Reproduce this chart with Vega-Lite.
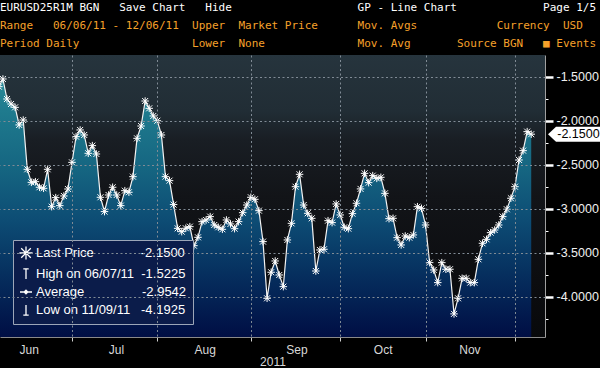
{
  "$schema": "https://vega.github.io/schema/vega-lite/v6.json",
  "width": 545,
  "height": 282,
  "autosize": {"type": "none"},
  "padding": {"left": 0, "top": 55, "right": 55, "bottom": 31},
  "background": "#000000",
  "title": {
    "text": "EURUSD25R1M BGN\u00a0\u00a0\u00a0Save Chart\u00a0\u00a0\u00a0Hide\u00a0\u00a0\u00a0\u00a0\u00a0\u00a0\u00a0\u00a0\u00a0\u00a0\u00a0\u00a0\u00a0\u00a0\u00a0\u00a0\u00a0\u00a0\u00a0GP - Line Chart\u00a0\u00a0\u00a0\u00a0\u00a0\u00a0\u00a0\u00a0\u00a0\u00a0\u00a0\u00a0\u00a0Page 1/5",
    "subtitle": [
      "Range\u00a0\u00a0\u00a006/06/11 - 12/06/11\u00a0\u00a0Upper\u00a0\u00a0Market Price\u00a0\u00a0\u00a0\u00a0\u00a0\u00a0Mov. Avgs\u00a0\u00a0\u00a0\u00a0\u00a0\u00a0\u00a0\u00a0\u00a0\u00a0\u00a0\u00a0Currency\u00a0\u00a0USD",
      "Period\u00a0Daily\u00a0\u00a0\u00a0\u00a0\u00a0\u00a0\u00a0\u00a0\u00a0\u00a0\u00a0\u00a0\u00a0\u00a0\u00a0\u00a0\u00a0Lower\u00a0\u00a0None\u00a0\u00a0\u00a0\u00a0\u00a0\u00a0\u00a0\u00a0\u00a0\u00a0\u00a0\u00a0\u00a0\u00a0Mov. Avg\u00a0\u00a0\u00a0\u00a0\u00a0\u00a0\u00a0Source\u00a0BGN\u00a0\u00a0\u00a0\u25a0 Events"
    ],
    "anchor": "start",
    "frame": "group",
    "offset": 3,
    "font": "DejaVu Sans Mono",
    "fontSize": 11,
    "fontWeight": "normal",
    "color": "#ffffff",
    "subtitleFont": "DejaVu Sans Mono",
    "subtitleFontSize": 11,
    "subtitleColor": "#f6a12a",
    "subtitleLineHeight": 18,
    "subtitlePadding": 7
  },
  "datasets": {
    "series": [
      {"i": 0, "v": -1.61}, {"i": 1, "v": -1.5225}, {"i": 2, "v": -1.75}, {"i": 3, "v": -1.807}, {"i": 4, "v": -1.845},
      {"i": 5, "v": -2.045}, {"i": 6, "v": -1.989}, {"i": 7, "v": -2.549}, {"i": 8, "v": -2.697}, {"i": 9, "v": -2.69},
      {"i": 10, "v": -2.753}, {"i": 11, "v": -2.765}, {"i": 12, "v": -2.549}, {"i": 13, "v": -2.974}, {"i": 14, "v": -2.871},
      {"i": 15, "v": -2.962}, {"i": 16, "v": -2.852}, {"i": 17, "v": -2.773}, {"i": 18, "v": -2.47}, {"i": 19, "v": -2.178},
      {"i": 20, "v": -2.102}, {"i": 21, "v": -2.159}, {"i": 22, "v": -2.367}, {"i": 23, "v": -2.28}, {"i": 24, "v": -2.375},
      {"i": 25, "v": -2.867}, {"i": 26, "v": -3.03}, {"i": 27, "v": -2.841}, {"i": 28, "v": -2.753}, {"i": 29, "v": -2.841},
      {"i": 30, "v": -2.962}, {"i": 31, "v": -2.792}, {"i": 32, "v": -2.81}, {"i": 33, "v": -2.633}, {"i": 34, "v": -2.197},
      {"i": 35, "v": -2.057}, {"i": 36, "v": -1.773}, {"i": 37, "v": -1.856}, {"i": 38, "v": -1.943}, {"i": 39, "v": -1.997},
      {"i": 40, "v": -2.159}, {"i": 41, "v": -2.633}, {"i": 42, "v": -2.678}, {"i": 43, "v": -2.95}, {"i": 44, "v": -3.22},
      {"i": 45, "v": -3.258}, {"i": 46, "v": -3.219}, {"i": 47, "v": -3.201}, {"i": 48, "v": -3.417}, {"i": 49, "v": -3.322},
      {"i": 50, "v": -3.144}, {"i": 51, "v": -3.125}, {"i": 52, "v": -3.087}, {"i": 53, "v": -3.182}, {"i": 54, "v": -3.208},
      {"i": 55, "v": -3.231}, {"i": 56, "v": -3.125}, {"i": 57, "v": -3.17}, {"i": 58, "v": -3.224}, {"i": 59, "v": -3.144},
      {"i": 60, "v": -3.042}, {"i": 61, "v": -2.955}, {"i": 62, "v": -2.867}, {"i": 63, "v": -2.89}, {"i": 64, "v": -3.019},
      {"i": 65, "v": -3.371}, {"i": 66, "v": -4.015}, {"i": 67, "v": -3.719}, {"i": 68, "v": -3.591}, {"i": 69, "v": -3.75},
      {"i": 70, "v": -3.883}, {"i": 71, "v": -3.352}, {"i": 72, "v": -3.163}, {"i": 73, "v": -2.747}, {"i": 74, "v": -2.606},
      {"i": 75, "v": -2.955}, {"i": 76, "v": -3.049}, {"i": 77, "v": -3.106}, {"i": 78, "v": -3.705}, {"i": 79, "v": -3.466},
      {"i": 80, "v": -3.458}, {"i": 81, "v": -3.133}, {"i": 82, "v": -3.155}, {"i": 83, "v": -2.943}, {"i": 84, "v": -3.068},
      {"i": 85, "v": -3.208}, {"i": 86, "v": -3.224}, {"i": 87, "v": -3.053}, {"i": 88, "v": -2.935}, {"i": 89, "v": -2.772},
      {"i": 90, "v": -2.595}, {"i": 91, "v": -2.701}, {"i": 92, "v": -2.621}, {"i": 93, "v": -2.652}, {"i": 94, "v": -2.64},
      {"i": 95, "v": -2.822}, {"i": 96, "v": -3.11}, {"i": 97, "v": -3.106}, {"i": 98, "v": -3.326}, {"i": 99, "v": -3.409},
      {"i": 100, "v": -3.307}, {"i": 101, "v": -3.326}, {"i": 102, "v": -3.295}, {"i": 103, "v": -2.974}, {"i": 104, "v": -2.993},
      {"i": 105, "v": -3.182}, {"i": 106, "v": -3.61}, {"i": 107, "v": -3.693}, {"i": 108, "v": -3.837}, {"i": 109, "v": -3.61},
      {"i": 110, "v": -3.685}, {"i": 111, "v": -3.685}, {"i": 112, "v": -4.1925}, {"i": 113, "v": -4.015}, {"i": 114, "v": -3.788},
      {"i": 115, "v": -3.788}, {"i": 116, "v": -3.837}, {"i": 117, "v": -3.837}, {"i": 118, "v": -3.572}, {"i": 119, "v": -3.39},
      {"i": 120, "v": -3.345}, {"i": 121, "v": -3.269}, {"i": 122, "v": -3.239}, {"i": 123, "v": -3.182}, {"i": 124, "v": -3.087},
      {"i": 125, "v": -3.003}, {"i": 126, "v": -2.878}, {"i": 127, "v": -2.747}, {"i": 128, "v": -2.443}, {"i": 129, "v": -2.337},
      {"i": 130, "v": -2.121}, {"i": 131, "v": -2.15}
    ],
    "legend": [
      {"entry": "Last Price", "value": "-2.1500"},
      {"entry": "High on 06/07/11", "value": "-1.5225"},
      {"entry": "Average", "value": "-2.9542"},
      {"entry": "Low on 11/09/11", "value": "-4.1925"}
    ]
  },
  "encoding": {
    "x": {
      "field": "i",
      "type": "quantitative",
      "scale": {"domain": [0.283, 134.39], "nice": false, "zero": false},
      "axis": {
        "values": [7.35, 18, 28.8, 39, 50.65, 62, 73.25, 84, 94.45, 105, 115.8, 127],
        "labelExpr": "datum.value == floor(datum.value) ? '' : datum.value < 18 ? 'Jun' : datum.value < 39 ? 'Jul' : datum.value < 62 ? 'Aug' : datum.value < 84 ? 'Sep' : datum.value < 105 ? 'Oct' : 'Nov'",
        "title": "2011",
        "grid": true,
        "gridOpacity": {"condition": {"test": "datum.value == floor(datum.value)", "value": 1}, "value": 0},
        "gridColor": "#808b95",
        "gridDash": [2, 2.5],
        "gridWidth": 1,
        "tickOpacity": {"condition": {"test": "datum.value == floor(datum.value)", "value": 1}, "value": 0},
        "tickSize": 4,
        "tickColor": "#d0d0d0",
        "domainColor": "#8a8a8a",
        "labelColor": "#d8d8d8",
        "labelFont": "Liberation Sans",
        "labelFontSize": 12,
        "labelPadding": 3,
        "labelOverlap": false,
        "labelFlush": false,
        "labelBound": false,
        "titleColor": "#d8d8d8",
        "titleFont": "Liberation Sans",
        "titleFontSize": 12,
        "titleFontWeight": "normal",
        "titlePadding": 1,
        "zindex": 1
      }
    },
    "y": {
      "field": "v",
      "type": "quantitative",
      "scale": {"domain": [-4.455, -1.25], "nice": false, "zero": false},
      "axis": {
        "orient": "right",
        "title": null,
        "values": [-4.25, -4.0, -3.75, -3.5, -3.25, -3.0, -2.75, -2.5, -2.25, -2.0, -1.75, -1.5],
        "labelExpr": "abs(datum.value * 2 - round(datum.value * 2)) < 0.001 ? '-' + format(-datum.value, '.4f') : ''",
        "grid": true,
        "gridOpacity": {"condition": {"test": "abs(datum.value * 2 - round(datum.value * 2)) < 0.001", "value": 1}, "value": 0},
        "gridColor": "#808b95",
        "gridDash": [2, 2.5],
        "gridWidth": 1,
        "tickSize": {"condition": {"test": "abs(datum.value * 2 - round(datum.value * 2)) < 0.001", "value": 8}, "value": 3},
        "tickWidth": {"condition": {"test": "abs(datum.value * 2 - round(datum.value * 2)) < 0.001", "value": 2.5}, "value": 1},
        "tickColor": "#ffffff",
        "domainColor": "#a0a0a0",
        "labelColor": "#f0f0f0",
        "labelFont": "Liberation Sans",
        "labelFontSize": 12.5,
        "labelPadding": 3,
        "labelOverlap": false,
        "labelFlush": false,
        "labelBound": false,
        "zindex": 1
      }
    }
  },
  "layer": [
    {
      "data": {"name": "series"},
      "mark": {
        "type": "area",
        "clip": true,
        "color": {
          "gradient": "linear", "x1": 0, "y1": 0, "x2": 0, "y2": 1,
          "stops": [
            {"offset": 0, "color": "#2a8b99"},
            {"offset": 0.12, "color": "#1f7b8e"},
            {"offset": 0.35, "color": "#156581"},
            {"offset": 0.55, "color": "#0d4c74"},
            {"offset": 0.75, "color": "#06305f"},
            {"offset": 1, "color": "#000e44"}
          ]
        }
      },
      "encoding": {"y2": {"datum": -4.455}}
    },
    {
      "data": {"name": "series"},
      "mark": {"type": "line", "clip": true, "color": "#f2f2f2", "strokeWidth": 1.2}
    },
    {
      "data": {"name": "series"},
      "mark": {"type": "point", "clip": true, "shape": "M-1,-1L1,1M-1,1L1,-1M0,-1.25L0,1.25M-1.25,0L1.25,0", "size": 36, "filled": false, "color": "#ffffff", "strokeWidth": 1, "opacity": 1}
    },
    {
      "data": {"name": "series"},
      "transform": [{"filter": "datum.i == 131"}],
      "mark": {"type": "point", "shape": "M1.68,0L2.48,-0.75L7.2,-0.75L7.2,0.75L2.48,0.75Z", "size": 400, "filled": true, "color": "#ffffff", "opacity": 1, "strokeWidth": 0}
    },
    {
      "data": {"name": "series"},
      "transform": [{"filter": "datum.i == 131"}],
      "mark": {"type": "text", "text": "-2.1500", "dx": 26, "align": "left", "baseline": "middle", "font": "Liberation Sans", "fontSize": 12.5, "color": "#000000"}
    },
    {
      "data": {"name": "legend"},
      "mark": {"type": "point", "opacity": 0, "color": "#ffffff"},
      "encoding": {
        "x": {"value": 0},
        "y": {"value": 0},
        "shape": {
          "field": "entry",
          "type": "nominal",
          "scale": {
            "domain": ["Last Price", "High on 06/07/11", "Average", "Low on 11/09/11"],
            "range": [
              "M-1.1,0L1.1,0M0,-1.1L0,1.1M-0.8,-0.8L0.8,0.8M-0.8,0.8L0.8,-0.8",
              "M-0.45,-0.85L0.45,-0.85M0,-0.85L0,0.85",
              "M-1,0L1,0M0,-0.3L0.3,0L0,0.3L-0.3,0Z",
              "M0,-0.85L0,0.85M-0.45,0.85L0.45,0.85"
            ]
          },
          "legend": {
            "title": null,
            "orient": "none",
            "legendX": 13,
            "legendY": 185,
            "padding": 6,
            "fillColor": "#0b1c4a",
            "strokeColor": "#9ca6b8",
            "labelFont": "Liberation Sans",
            "labelFontSize": 13,
            "labelColor": "#ffffff",
            "labelLimit": 400,
            "labelOffset": 3,
            "rowPadding": 3,
            "symbolSize": 144,
            "symbolOpacity": 1,
            "symbolStrokeWidth": 1.3,
            "symbolStrokeColor": "#ffffff",
            "symbolFillColor": "#ffffff",
            "labelExpr": "datum.label == 'Last Price' ? 'Last Price\u00a0\u00a0\u00a0\u00a0\u00a0\u00a0\u00a0\u00a0\u00a0\u00a0\u00a0\u00a0\u00a0-2.1500' : datum.label == 'Average' ? 'Average\u00a0\u00a0\u00a0\u00a0\u00a0\u00a0\u00a0\u00a0\u00a0\u00a0\u00a0\u00a0\u00a0\u00a0\u00a0\u00a0-2.9542' : datum.label == 'Low on 11/09/11' ? 'Low on 11/09/11\u00a0\u00a0\u00a0-4.1925' : 'High on 06/07/11\u00a0\u00a0-1.5225'",
            "encode": {
              "symbols": {
                "update": {
                  "fill": {"value": "#ffffff"},
                  "stroke": {"value": "#ffffff"},
                  "opacity": {"value": 1},
                  "strokeWidth": {"value": 1.3}
                }
              }
            }
          }
        }
      }
    }
  ],
  "config": {
    "view": {
      "stroke": null,
      "fill": {
        "gradient": "linear", "x1": 0, "y1": 0, "x2": 0, "y2": 1,
        "stops": [
          {"offset": 0, "color": "#26343d"},
          {"offset": 0.2, "color": "#212d35"},
          {"offset": 0.3, "color": "#191e24"},
          {"offset": 0.5, "color": "#121418"},
          {"offset": 0.8, "color": "#0c0d10"},
          {"offset": 1, "color": "#08090b"}
        ]
      }
    }
  }
}
